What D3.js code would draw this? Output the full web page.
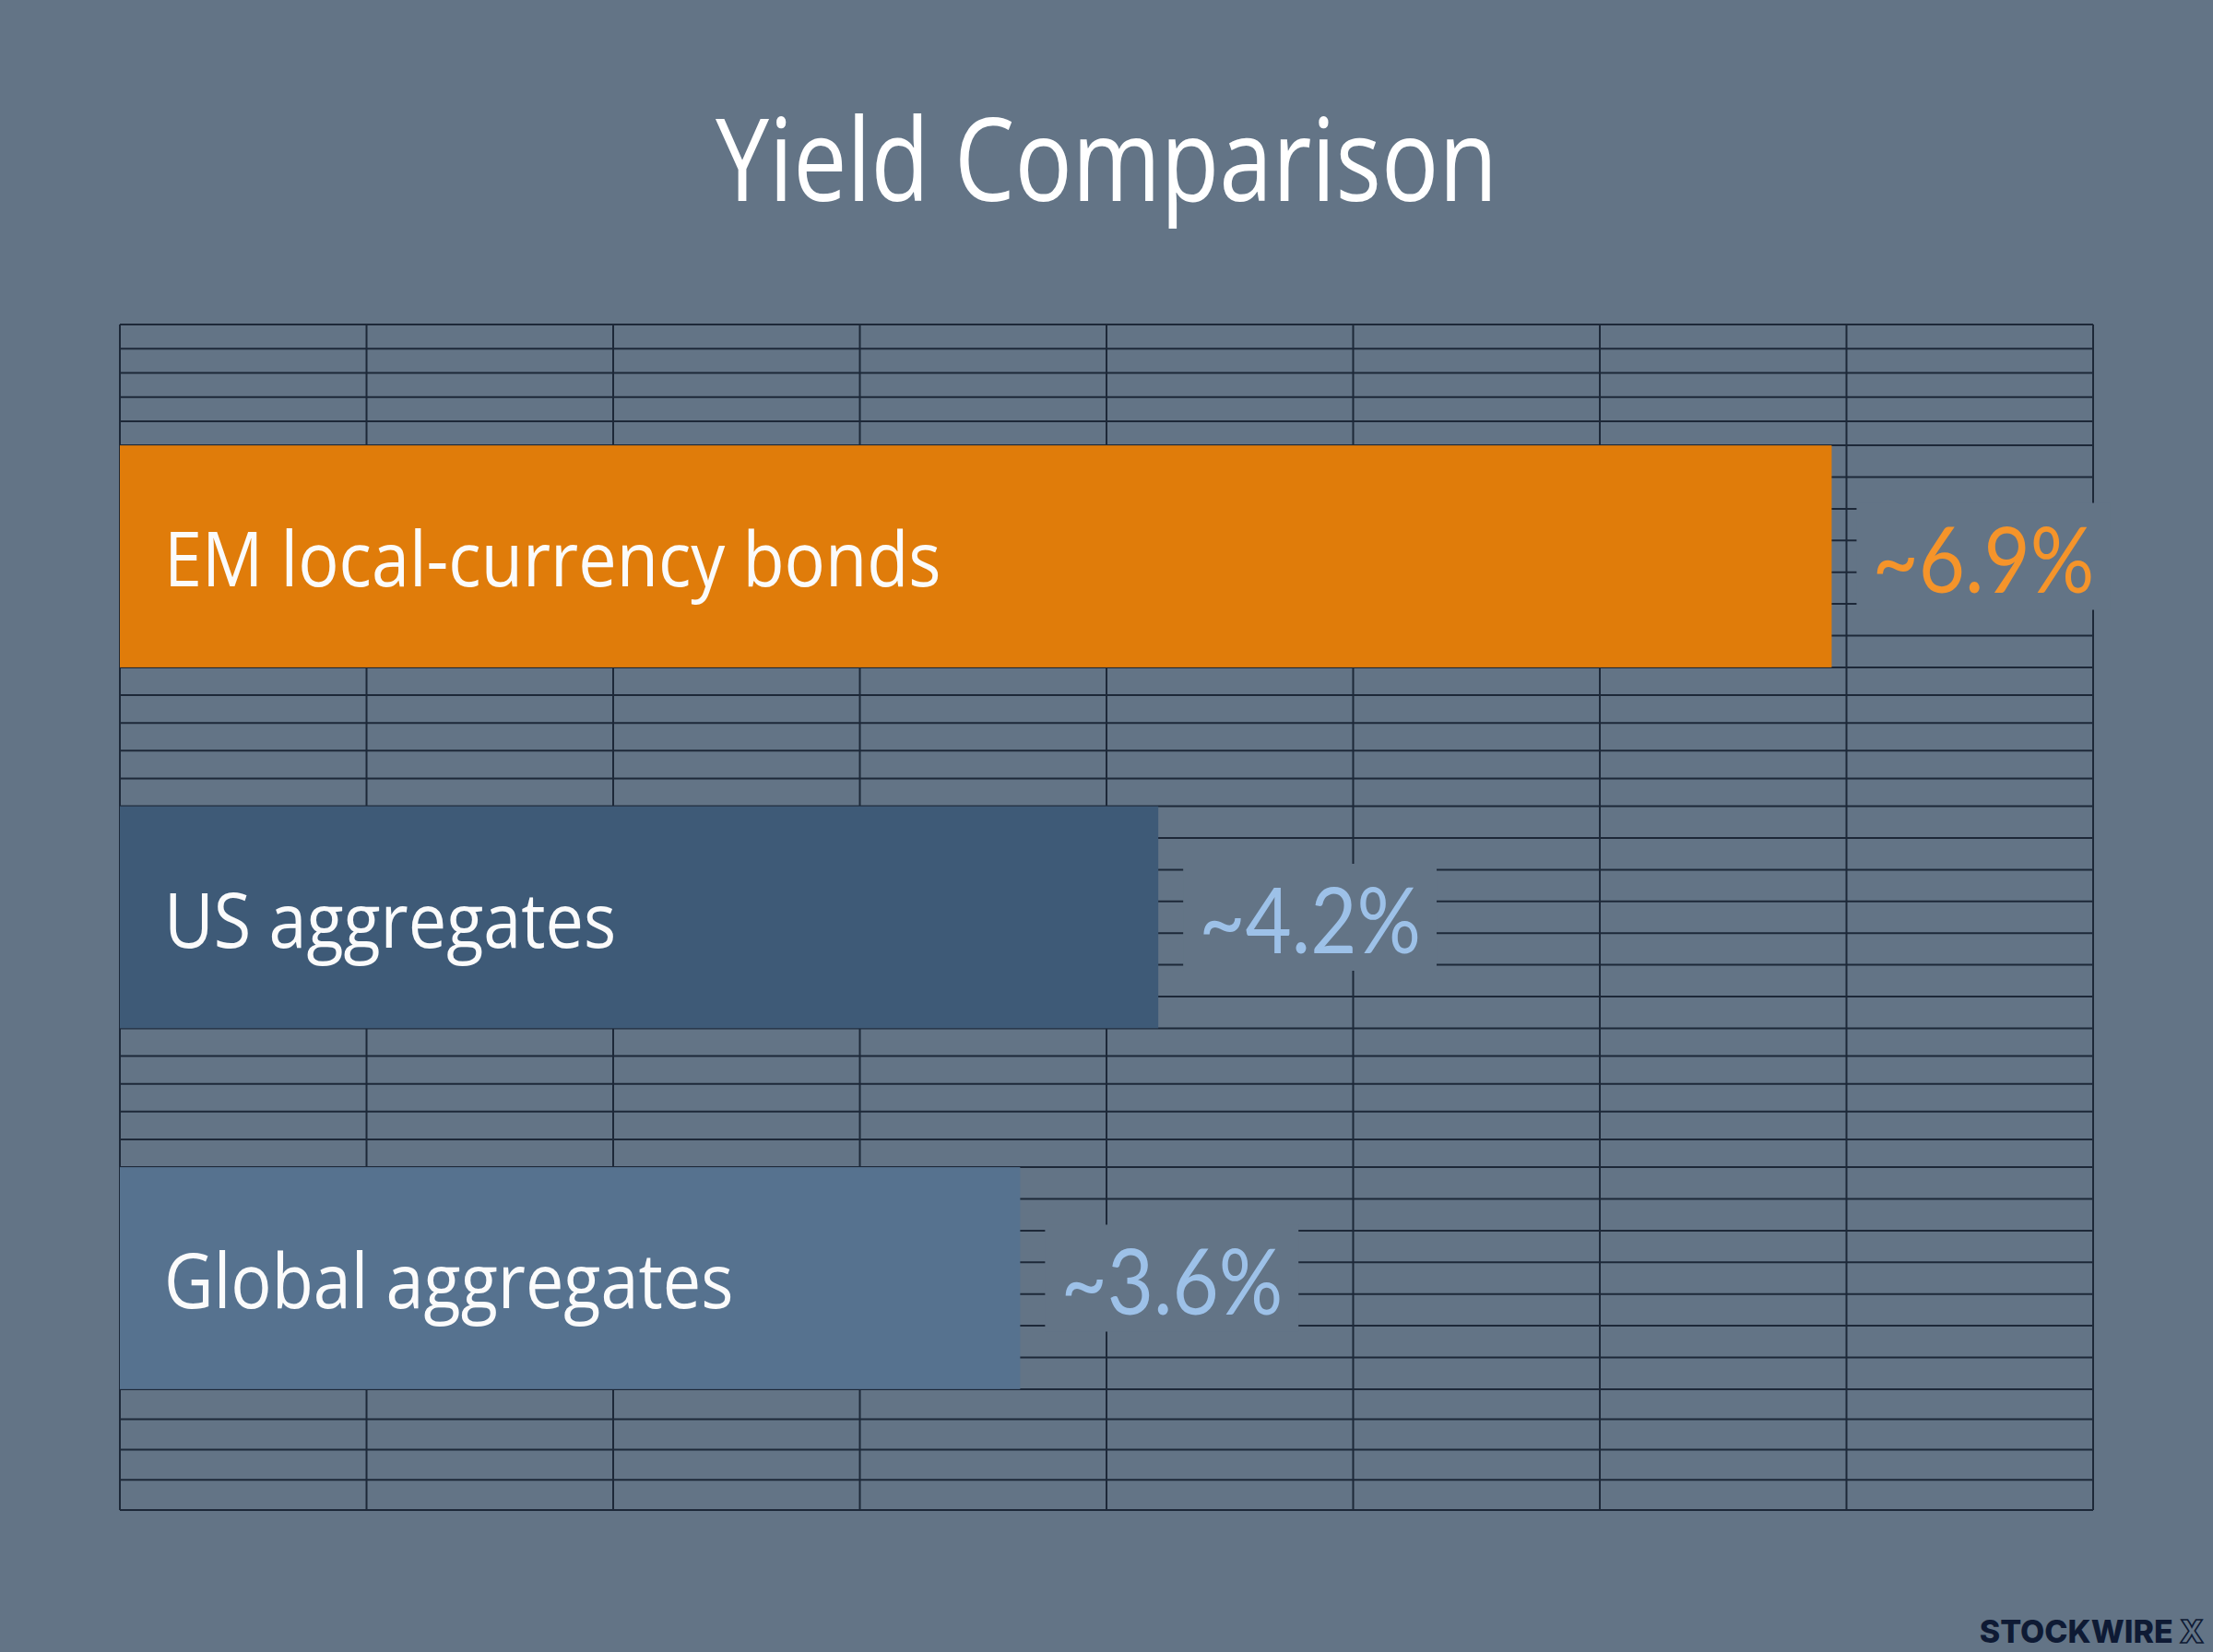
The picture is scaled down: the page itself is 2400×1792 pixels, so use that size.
<!DOCTYPE html>
<html>
<head>
<meta charset="utf-8">
<script src="https://cdn.jsdelivr.net/npm/d3@7"></script>
<style>
  html, body { margin: 0; padding: 0; background: #637486; }
  svg { display: block; }
</style>
</head>
<body>
<svg id="chart"></svg>
<script>
// chart data
const categories = ["EM local-currency bonds", "US aggregates", "Global aggregates"];
const yields = [6.94, 4.21, 3.65];
const valueLabels = ["~6.9%", "~4.2%", "~3.6%"];
const xTicks = [0, 1, 2, 3, 4, 5, 6, 7, 8];
const title = "Yield Comparison";

const config = {
  width: 2400,
  height: 1792,
  plot: { left: 130, right: 2270, top: 352, bottom: 1638 },
  background: "#637486",
  gridColor: "#1d2838",
  barColors: ["#e07c0a", "#3e5a77", "#56728f"],
  valueColors: ["#f5942a", "#9dc1e8", "#9dc1e8"],
  rows: { top: 5, band: 7, gap: 5, bottom: 4 },
  condenseTitle: 0.83,
  condenseCat: 0.9,
  condenseVal: 0.885
};

const svg = d3.select("#chart")
  .attr("width", config.width)
  .attr("height", config.height);

svg.append("rect")
  .attr("width", config.width)
  .attr("height", config.height)
  .attr("fill", config.background);

const { plot } = config;

const x = d3.scaleLinear()
  .domain([0, 8])
  .range([plot.left, plot.right]);

const y = d3.scaleBand()
  .domain(categories)
  .range([plot.top, plot.bottom])
  .paddingInner(0.385)
  .paddingOuter(0.335);

// horizontal grid: each region between bar edges is split into rows
function splitRegion(y0, y1, n) {
  return d3.range(n + 1).map(i => y0 + (y1 - y0) * i / n);
}
let hLines = [];
const bands = categories.map(c => [y(c), y(c) + y.bandwidth()]);
hLines = hLines.concat(splitRegion(plot.top, bands[0][0], config.rows.top));
bands.forEach((b, i) => {
  hLines = hLines.concat(splitRegion(b[0], b[1], config.rows.band));
  if (i < bands.length - 1) {
    hLines = hLines.concat(splitRegion(b[1], bands[i + 1][0], config.rows.gap));
  }
});
hLines = hLines.concat(splitRegion(bands[bands.length - 1][1], plot.bottom, config.rows.bottom));
hLines = Array.from(new Set(hLines.map(v => Math.round(v * 10) / 10)));

const grid = svg.append("g").attr("class", "grid")
  .attr("stroke", config.gridColor)
  .attr("stroke-width", 2);

grid.selectAll("line.h")
  .data(hLines)
  .enter().append("line")
  .attr("class", "h")
  .attr("x1", plot.left)
  .attr("x2", plot.right)
  .attr("y1", d => d)
  .attr("y2", d => d);

grid.selectAll("line.v")
  .data(xTicks)
  .enter().append("line")
  .attr("class", "v")
  .attr("x1", d => x(d))
  .attr("x2", d => x(d))
  .attr("y1", plot.top)
  .attr("y2", plot.bottom);

// bars
svg.selectAll("rect.bar")
  .data(categories)
  .enter().append("rect")
  .attr("class", "bar")
  .attr("x", x(0))
  .attr("y", d => y(d))
  .attr("width", (d, i) => x(yields[i]) - x(0))
  .attr("height", y.bandwidth())
  .attr("fill", (d, i) => config.barColors[i]);

// category labels inside bars
const catSize = 82;
svg.selectAll("text.cat")
  .data(categories)
  .enter().append("text")
  .attr("class", "cat")
  .attr("transform", d => `translate(${x(0) + 48},${y(d) + y.bandwidth() / 2 + catSize * 0.4}) scale(${config.condenseCat},1)`)
  .attr("font-family", "'Open Sans', sans-serif")
  .attr("font-size", catSize)
  .attr("fill", "#fbfbfb")
  .text(d => d);

// value labels with a background patch cutting the grid
const valSize = 98;
const valGap = 44;
const boxLayer = svg.append("g");
const vals = svg.selectAll("text.val")
  .data(categories)
  .enter().append("text")
  .attr("class", "val")
  .attr("transform", (d, i) => `translate(${x(yields[i]) + valGap},${y(d) + y.bandwidth() / 2 + valSize * 0.4}) scale(${config.condenseVal},1)`)
  .attr("font-family", "Lato, 'Open Sans', sans-serif")
  .attr("font-size", valSize)
  .attr("fill", (d, i) => config.valueColors[i])
  .text((d, i) => valueLabels[i]);

vals.each(function(d, i) {
  const w = this.getComputedTextLength() * config.condenseVal;
  const cy = y(d) + y.bandwidth() / 2;
  boxLayer.append("rect")
    .attr("x", x(yields[i]) + valGap - 17)
    .attr("y", cy - 58)
    .attr("width", w + 34)
    .attr("height", 116)
    .attr("fill", config.background);
});

// title
svg.append("text")
  .attr("transform", `translate(${config.width / 2},218) scale(${config.condenseTitle},1)`)
  .attr("text-anchor", "middle")
  .attr("font-family", "'Open Sans', sans-serif")
  .attr("font-size", 125)
  .attr("fill", "#ffffff")
  .text(title);

// watermark
const mark = svg.append("text")
  .attr("x", 2390)
  .attr("y", 1782)
  .attr("text-anchor", "end")
  .attr("font-family", "Inter, sans-serif")
  .attr("font-weight", 800)
  .attr("font-size", 34)
  .attr("fill", "#0e1a34");
mark.append("tspan").text("STOCKWIRE ");
mark.append("tspan")
  .attr("fill", "none")
  .attr("stroke", "#0e1a34")
  .attr("stroke-width", 1.6)
  .text("X");
</script>
</body>
</html>
